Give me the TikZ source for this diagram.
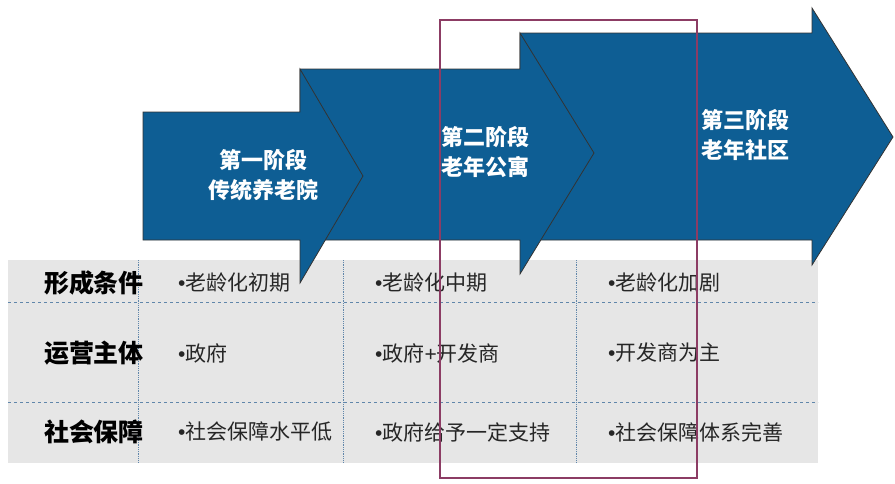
\documentclass[tikz,border=0pt]{standalone}
\usepackage{fontspec}
\newfontfamily\cjk{Noto Sans CJK SC}
\newfontfamily\latinsans{Liberation Sans}
\newcommand\itembullet{{\latinsans •}}
\definecolor{stageblue}{RGB}{14,94,148}
\definecolor{tablegray}{RGB}{230,230,230}
\definecolor{gridblue}{RGB}{96,134,170}
\definecolor{framepurple}{RGB}{140,60,100}
\tikzset{
    stagearrow/.style = {fill = stageblue, draw = black!80, line width = 0.8pt, line join = miter},
    stagetext/.style = {text = white, font = \cjk\bfseries\fontsize{22}{30}\selectfont, align = center},
    rowlabel/.style = {font = \cjk\bfseries\fontsize{25}{30}\selectfont, text = black},
    celltext/.style = {font = \cjk\fontsize{21}{24}\selectfont, text = black!85, anchor = west, inner sep = 0pt},
    gridline/.style = {draw = gridblue, line width = 0.8pt},
}
\begin{document}
\begin{tikzpicture}[x = 1pt, y = -1pt]%
    \useasboundingbox (0, 0) rectangle (895, 483);
    % table background and grid
    \fill[tablegray] (8, 260) rectangle (818, 463);
    \draw[gridline, dashed] (8, 302) -- (818, 302) (8, 402) -- (818, 402);
    \draw[gridline, densely dotted] (138, 260) -- (138, 463) (343, 260) -- (343, 463) (576, 260) -- (576, 463);
    % stage arrows
    \draw[stagearrow] (520, 33) -- (812, 33) -- (812, 8) -- (893, 137) -- (812, 265) -- (812, 240) -- (520, 240) -- cycle;
    \draw[stagearrow] (300, 69) -- (520, 69) -- (520, 33) -- (594, 153) -- (520, 274) -- (520, 240) -- (300, 240) -- cycle;
    \draw[stagearrow] (143, 112) -- (300, 112) -- (300, 69) -- (363, 176) -- (300, 283) -- (300, 240) -- (143, 240) -- cycle;
    \node[stagetext] (stage1) at (263, 175) {第一阶段\\传统养老院};
    \node[stagetext] (stage2) at (485, 152) {第二阶段\\老年公寓};
    \node[stagetext] (stage3) at (745, 135) {第三阶段\\老年社区};
    % row labels
    \node[rowlabel] (cond) at (94, 283) {形成条件};
    \node[rowlabel] (oper) at (94, 353) {运营主体};
    \node[rowlabel] (secu) at (94, 432) {社会保障};
    % cells
    \node[celltext] (cond1) at (178, 283) {\itembullet 老龄化初期};
    \node[celltext] (cond2) at (375, 283) {\itembullet 老龄化中期};
    \node[celltext] (cond3) at (608, 283) {\itembullet 老龄化加剧};
    \node[celltext] (oper1) at (178, 353) {\itembullet 政府};
    \node[celltext] (oper2) at (375, 353) {\itembullet 政府{\latinsans +}开发商};
    \node[celltext] (oper3) at (608, 353) {\itembullet 开发商为主};
    \node[celltext] (secu1) at (178, 432) {\itembullet 社会保障水平低};
    \node[celltext] (secu2) at (375, 432) {\itembullet 政府给予一定支持};
    \node[celltext] (secu3) at (608, 432) {\itembullet 社会保障体系完善};
    % highlight frame
    \draw[framepurple, line width = 1.6pt] (440, 20) rectangle (697, 478);
\end{tikzpicture}
\end{document}
